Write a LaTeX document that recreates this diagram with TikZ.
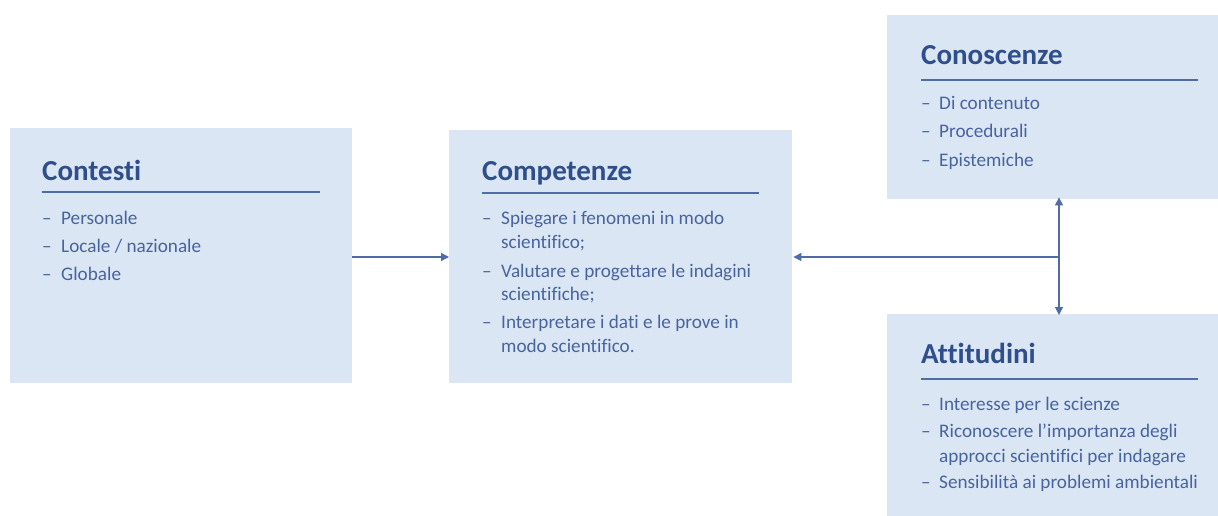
\documentclass[tikz,border=0pt]{standalone}
\usepackage{fontspec}
\setmainfont{Carlito}[Ligatures={NoCommon}]
\usetikzlibrary{arrows.meta}
\definecolor{boxfill}{RGB}{219,230,244}
\definecolor{titlecol}{RGB}{47,78,140}
\definecolor{itemcol}{RGB}{72,100,160}
\definecolor{linecol}{RGB}{80,108,166}
\tikzset{
  panel/.style={fill=boxfill, draw=none, anchor=north west, inner sep=0pt},
  ttl/.style={anchor=base west, inner sep=0pt, text=titlecol, font=\fontsize{29}{33}\selectfont\bfseries},
  itm/.style={anchor=base west, inner sep=0pt, text=itemcol, font=\fontsize{19.2}{23}\selectfont},
  rulel/.style={draw=linecol, line width=1.3pt},
  arr/.style={draw=linecol, line width=1.2pt, -{Triangle[length=8pt,width=8pt]}}
}
\begin{document}
\begin{tikzpicture}[x=1pt,y=-1pt]
\useasboundingbox[fill=white] (0,0) rectangle (1218,516);
% panels
\node[panel, minimum width=342pt, minimum height=255pt] (contesti) at (10,128) {};
\node[panel, minimum width=343pt, minimum height=253pt] (competenze) at (449,130) {};
\node[panel, minimum width=331pt, minimum height=184pt] (conoscenze) at (887,15) {};
\node[panel, minimum width=331pt, minimum height=202pt] (attitudini) at (887,314) {};
% Contesti
\node[ttl] (t1) at (42,180) {Contesti};
\draw[rulel] (42,192) -- (320,192);
\node[itm] (c1d) at (42,224) {–}; \node[itm] (c1) at (61,224) {Personale};
\node[itm] (c2d) at (42,252) {–}; \node[itm] (c2) at (61,252) {Locale / nazionale};
\node[itm] (c3d) at (42,280) {–}; \node[itm] (c3) at (61,280) {Globale};
% Competenze
\node[ttl] (t2) at (482,180) {Competenze};
\draw[rulel] (482,193) -- (759,193);
\node[itm] (k1d) at (482,224) {–}; \node[itm] (k1) at (501,224) {Spiegare i fenomeni in modo};
\node[itm] (k1b) at (501,248) {scientifico;};
\node[itm] (k2d) at (482,277) {–}; \node[itm] (k2) at (501,277) {Valutare e progettare le indagini};
\node[itm] (k2b) at (501,300) {scientifiche;};
\node[itm] (k3d) at (482,328) {–}; \node[itm] (k3) at (501,328) {Interpretare i dati e le prove in};
\node[itm] (k3b) at (501,352) {modo scientifico.};
% Conoscenze
\node[ttl] (t3) at (921,65) {Conoscenze};
\draw[rulel] (921,80) -- (1198,80);
\node[itm] (n1d) at (921,110) {–}; \node[itm] (n1) at (939,110) {Di contenuto};
\node[itm] (n2d) at (921,138) {–}; \node[itm] (n2) at (939,138) {Procedurali};
\node[itm] (n3d) at (921,167) {–}; \node[itm] (n3) at (939,167) {Epistemiche};
% Attitudini
\node[ttl] (t4) at (921,363) {Attitudini};
\draw[rulel] (921,379) -- (1198,379);
\node[itm] (a1d) at (921,410) {–}; \node[itm] (a1) at (939,410) {Interesse per le scienze};
\node[itm] (a2d) at (921,437) {–}; \node[itm] (a2) at (939,437) {Riconoscere l’importanza degli};
\node[itm] (a2b) at (939,462) {approcci scientifici per indagare};
\node[itm] (a3d) at (921,488) {–}; \node[itm] (a3) at (939,488) {Sensibilità ai problemi ambientali};
% connectors
\coordinate (j) at (1059,257);
\draw[arr] (contesti.east |- j) -- (competenze.west |- j);
\draw[arr] (j) -- ([xshift=1pt]competenze.east |- j);
\draw[arr] (j) -- ([yshift=2pt]conoscenze.south -| j);
\draw[arr] (j) -- ([yshift=-1pt]attitudini.north -| j);
\end{tikzpicture}
\end{document}
